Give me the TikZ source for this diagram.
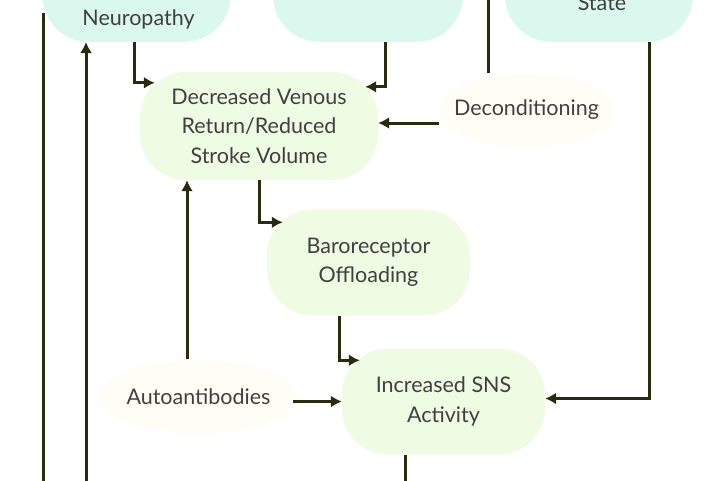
\documentclass[tikz,border=0pt]{standalone}
\usepackage{fontspec}
\setmainfont{Lato}
\usetikzlibrary{arrows.meta,shapes.geometric}
\definecolor{capcyan}{HTML}{DAF8EE}
\definecolor{capgreen}{HTML}{EFFBE3}
\definecolor{capcream}{HTML}{FEFEF6}
\definecolor{capline}{HTML}{2A2A0E}
\definecolor{captext}{HTML}{404040}
\begin{document}
\begin{tikzpicture}[x=1pt,y=-1pt,
  box/.style={rounded corners=46pt,inner sep=0pt,align=center,text=captext,
    font=\fontsize{21.5}{29.5}\selectfont},
  topbox/.style={box,fill=capcyan,minimum width=188pt,minimum height=105pt},
  midbox/.style={box,fill=capgreen,minimum width=203pt,minimum height=106pt},
  cause/.style={ellipse,fill=capcream,inner ysep=0pt,inner xsep=-13pt,text=captext,
    font=\fontsize{21.5}{29.5}\selectfont,minimum width=175pt,minimum height=74pt},
  wire/.style={line width=3pt,draw=capline},
  arr/.style={wire,-{Latex[length=11pt,width=12pt]}}]
  \useasboundingbox (0,0) rectangle (720,480);
  \clip (0,0) rectangle (720,480);
  % top row, cut off by the frame
  \node[topbox,anchor=south] (neuro) at (136.5,42) {};
  \node[topbox,anchor=south,minimum width=190pt] (topmid) at (368,42) {};
  \node[topbox,anchor=south] (state) at (599,42) {};
  \node[box,anchor=base] (neurotxt) at (138.5,25) {Neuropathy};
  \node[box,anchor=base] (statetxt) at (602,10) {State};
  % middle chain
  \node[midbox,minimum width=238pt,minimum height=108pt] (venous) at (259,126) {Decreased Venous\\Return/Reduced\\Stroke Volume};
  \node[midbox] (baro) at (368.5,262.5) {Baroreceptor\\Offloading};
  \node[midbox] (sns) at (443.5,401.5) {Increased SNS\\Activity};
  \node[cause] (decond) at (526.5,110) {Deconditioning};
  \node[cause,minimum width=197pt] (autoab) at (198.5,396.5) {Autoantibodies};
  % connectors
  \draw[arr] ([xshift=-2pt]neuro.south) |- ([xshift=15pt,yshift=-11pt]venous.north west);
  \draw[arr] ([xshift=17pt]topmid.south) |- ([xshift=-13pt,yshift=-15pt]venous.north east);
  \draw[arr] ([yshift=-13pt]decond.west) -- ([yshift=-13pt]decond.west -| venous.east);
  \draw[arr] ([xshift=50pt]state.south) |- ([yshift=3pt]sns.east);
  \draw[arr] (venous.south) |- ([xshift=16pt,yshift=-13pt]baro.north west);
  \draw[arr] ([xshift=-29.5pt]baro.south) |- ([xshift=18pt,yshift=-12pt]sns.north west);
  \draw[arr] ([xshift=-11.5pt]autoab.north) -- ([xshift=-11.5pt]autoab.north |- venous.south);
  \draw[arr,shorten <=-4pt] (autoab.east |- sns.west) -- (sns.west);
  \draw[wire] ([xshift=-38pt]sns.south) -- ++(0,30);
  \draw[wire] ([xshift=-38.5pt]decond.north) -- ++(0,-80);
  \coordinate (farleft) at (43,13);
  \coordinate (nleft) at ([xshift=-50.5pt]neuro.south);
  \draw[wire] (farleft) -- (farleft |- 0,490);
  \draw[arr] (nleft |- 0,490) -- (nleft);
\end{tikzpicture}
\end{document}
